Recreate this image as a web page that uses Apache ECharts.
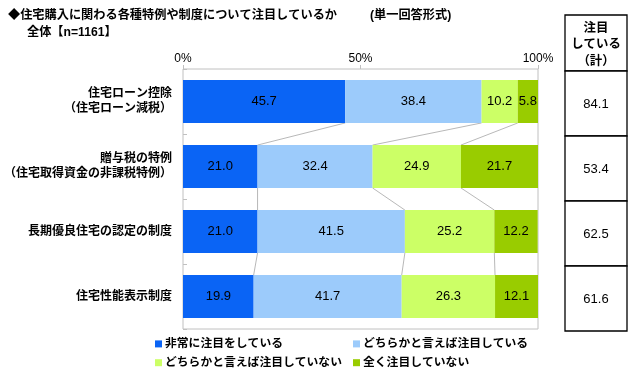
<!DOCTYPE html>
<html>
<head>
<meta charset="utf-8">
<script src="https://cdn.jsdelivr.net/npm/echarts@6/dist/echarts.min.js"></script>
<style>
  html, body { margin: 0; padding: 0; background: #fff; }
  #chart { width: 640px; height: 376px; }
</style>
</head>
<body>
<div id="chart"></div>
<script>
// 項目
var categories = ['住宅ローン控除\n（住宅ローン減税）', '贈与税の特例\n（住宅取得資金の非課税特例）', '長期優良住宅の認定の制度', '住宅性能表示制度'];
var seriesNames = ['非常に注目をしている', 'どちらかと言えば注目している', 'どちらかと言えば注目していない', '全く注目していない'];
var veryMuch = [45.7, 21.0, 21.0, 19.9];
var somewhat = [38.4, 32.4, 41.5, 41.7];
var notMuch = [10.2, 24.9, 25.2, 26.3];
var notAtAll = [5.8, 21.7, 12.2, 12.1];
var totalAttention = [84.1, 53.4, 62.5, 61.6];
var xTicks = [0, 50, 100];

var colors = ['#0A64F5', '#9CCBFB', '#CCFF66', '#99CC00'];
var jpFont = "'Liberation Sans', 'Noto Sans CJK JP', sans-serif";

// 区切り線用の累積値
var stacks = [veryMuch, somewhat, notMuch];
var cumul = categories.map(function (c, i) {
    var s = 0, out = [];
    stacks.forEach(function (arr) { s += arr[i]; out.push(s); });
    return out;
});

var chart = echarts.init(document.getElementById('chart'));

function barSeries(name, data, idx) {
    return {
        name: name,
        type: 'bar',
        stack: 'all',
        barWidth: '66%',
        data: data,
        itemStyle: { color: colors[idx] },
        label: {
            show: true,
            position: 'inside',
            color: '#000',
            fontSize: 13,
            fontFamily: jpFont,
            formatter: function (p) { return p.value.toFixed(1); }
        },
        emphasis: { disabled: true }
    };
}

var legendText = { fontSize: 11.8, fontWeight: 'bold', color: '#000', fontFamily: jpFont, padding: [0, 0, 0, -2] };

var option = {
    animation: false,
    title: [
        { text: '◆住宅購入に関わる各種特例や制度について注目しているか', left: 3, top: 5,
          textStyle: { fontSize: 12.2, fontWeight: 'bold', color: '#000', fontFamily: jpFont } },
        { text: '(単一回答形式)', left: 365, top: 5,
          textStyle: { fontSize: 12.2, fontWeight: 'bold', color: '#000', fontFamily: jpFont } },
        { text: '全体【n=1161】', left: 22, top: 22,
          textStyle: { fontSize: 12.2, fontWeight: 'bold', color: '#000', fontFamily: jpFont } }
    ],
    legend: [
        {
            orient: 'vertical', left: 150, top: 333, itemWidth: 7, itemHeight: 7, itemGap: 7, icon: 'rect',
            data: [seriesNames[0], seriesNames[2]],
            textStyle: legendText
        },
        {
            orient: 'vertical', left: 348, top: 333, itemWidth: 7, itemHeight: 7, itemGap: 7, icon: 'rect',
            data: [seriesNames[1], seriesNames[3]],
            textStyle: legendText
        }
    ],
    grid: [
        { left: 183, right: 102, top: 69, height: 260, show: true, borderColor: '#C0C0C0', borderWidth: 1,
          outerBoundsMode: 'none', containLabel: false },
        { left: 565, width: 62, top: 71, height: 260, outerBoundsMode: 'none', containLabel: false }
    ],
    xAxis: [
        {
            type: 'value', gridIndex: 0, position: 'top', min: 0, max: 100, interval: 50,
            axisLine: { show: false },
            axisTick: { show: true, length: 4, lineStyle: { color: '#C0C0C0' } },
            splitLine: { show: false },
            axisLabel: {
                margin: 4, fontSize: 12, color: '#000', fontFamily: jpFont,
                customValues: xTicks,
                formatter: '{value}%'
            }
        },
        { type: 'value', gridIndex: 1, min: 0, max: 1, show: false }
    ],
    yAxis: [
        {
            type: 'category', gridIndex: 0, inverse: true, data: categories,
            axisLine: { show: false },
            axisTick: { show: true, inside: true, length: 4, lineStyle: { color: '#C0C0C0' } },
            axisLabel: {
                margin: 11, fontSize: 12, fontWeight: 'bold', color: '#000', lineHeight: 15,
                fontFamily: jpFont, align: 'right'
            }
        },
        { type: 'category', gridIndex: 1, inverse: true, data: categories, show: false }
    ],
    graphic: [
        {
            type: 'rect', shape: { x: 565, y: 15, width: 62, height: 56 },
            style: { fill: '#fff', stroke: '#000', lineWidth: 1.3 }
        },
        {
            type: 'text', x: 596, y: 45,
            style: {
                text: '注目\nしている\n（計）', fill: '#000', fontSize: 12.4, fontWeight: 'bold',
                lineHeight: 16.5, align: 'center', verticalAlign: 'middle', fontFamily: jpFont
            }
        }
    ],
    series: [
        barSeries(seriesNames[0], veryMuch, 0),
        barSeries(seriesNames[1], somewhat, 1),
        barSeries(seriesNames[2], notMuch, 2),
        barSeries(seriesNames[3], notAtAll, 3),
        {
            // 区切り線
            type: 'custom',
            xAxisIndex: 0, yAxisIndex: 0,
            silent: true,
            data: [0, 1, 2],
            renderItem: function (params, api) {
                var i = api.value(0);
                var half = api.size([0, 1])[1] * 0.33;
                var children = cumul[i].map(function (v, j) {
                    var a = api.coord([v, i]);
                    var b = api.coord([cumul[i + 1][j], i + 1]);
                    return {
                        type: 'line',
                        shape: { x1: a[0], y1: a[1] + half, x2: b[0], y2: b[1] - half },
                        style: { stroke: '#A6A6A6', lineWidth: 0.8 }
                    };
                });
                return { type: 'group', children: children };
            },
            z: 1
        },
        {
            // 右側の合計表
            type: 'custom',
            xAxisIndex: 1, yAxisIndex: 1,
            silent: true,
            data: totalAttention.map(function (v, i) { return [i, v]; }),
            renderItem: function (params, api) {
                var i = api.value(0);
                var band = api.size([0, 1])[1];
                var p0 = api.coord([0, i]);
                var p1 = api.coord([1, i]);
                return {
                    type: 'group',
                    children: [
                        {
                            type: 'rect',
                            shape: { x: p0[0], y: p0[1] - band / 2, width: p1[0] - p0[0], height: band },
                            style: { fill: '#fff', stroke: '#000', lineWidth: 1.3 }
                        },
                        {
                            type: 'text',
                            x: (p0[0] + p1[0]) / 2, y: p0[1] + 1,
                            style: {
                                text: api.value(1).toFixed(1), fill: '#000', fontSize: 13,
                                align: 'center', verticalAlign: 'middle', fontFamily: jpFont
                            }
                        }
                    ]
                };
            }
        }
    ]
};

chart.setOption(option);
</script>
</body>
</html>
